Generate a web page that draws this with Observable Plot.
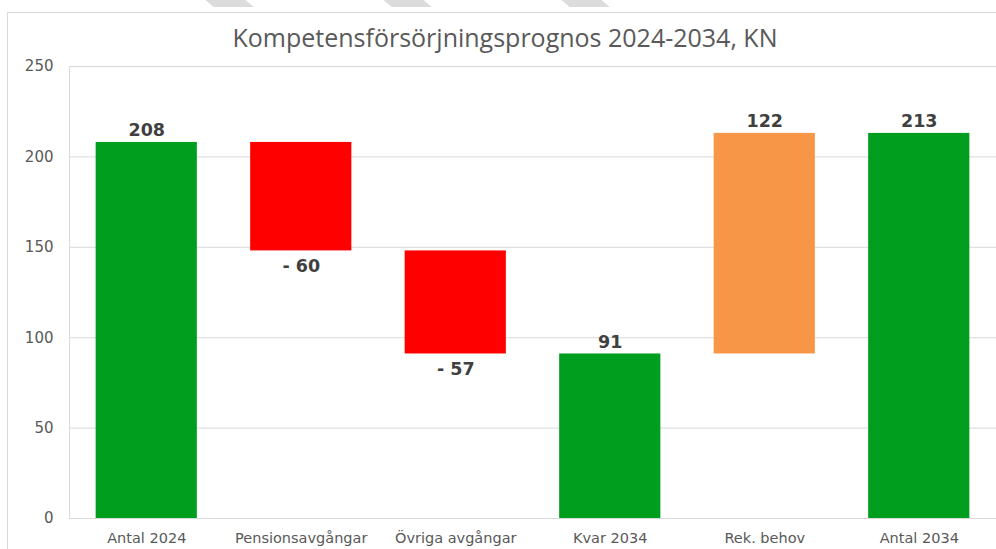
<!DOCTYPE html>
<html><head><meta charset="utf-8">
<script src="https://cdn.jsdelivr.net/npm/d3@7"></script>
<script src="https://cdn.jsdelivr.net/npm/@observablehq/plot@0.6"></script>
<style>
body{margin:0;background:#fff;}
#wrap{position:relative;width:996px;height:549px;overflow:hidden;background:#fff;}
#frame{position:absolute;left:7px;top:12px;width:1100px;height:600px;border:1px solid #d9d9d9;}
#title{position:absolute;top:20px;left:0;width:1010px;text-align:center;font-family:"Open Sans",sans-serif;font-size:25px;color:#595959;white-space:nowrap;}
#chart{position:absolute;left:0;top:50px;}
.wm{position:absolute;top:-1px;width:40px;height:8px;background:#dcdcdc;transform:skewX(50deg);}
</style></head>
<body>
<div id="wrap">
  <div class="wm" style="left:209px"></div>
  <div class="wm" style="left:387px"></div>
  <div class="wm" style="left:565px"></div>
  <div id="frame"></div>
  <div id="title">Kompetensförsörjningsprognos 2024-2034, KN</div>
  <div id="chart"></div>
</div>
<script>
const categories = ["Antal 2024", "Pensionsavgångar", "Övriga avgångar", "Kvar 2034", "Rek. behov", "Antal 2034"];
const changes = [208, -60, -57, 91, 122, 213];
const kinds = ["total", "decrease", "decrease", "total", "increase", "total"];
const labels = ["208", "- 60", "- 57", "91", "122", "213"];
const yTicks = [0, 50, 100, 150, 200, 250];
const kindColors = {total: "#009E1F", decrease: "#FF0000", increase: "#F79646"};

let running = 0;
const data = categories.map((cat, i) => {
  const v = changes[i], k = kinds[i];
  let y1, y2;
  if (k === "total") { y1 = 0; y2 = v; running = v; }
  else if (k === "decrease") { y2 = running; y1 = running + v; running = y1; }
  else { y1 = running; y2 = running + v; running = y2; }
  return {cat, y1, y2, kind: k, label: labels[i]};
});

const chart = Plot.plot({
  width: 996,
  height: 499,
  marginTop: 16,
  marginBottom: 31,
  marginLeft: 69,
  marginRight: 0,
  style: {background: "transparent", overflow: "visible"},
  x: {domain: categories, paddingInner: 0.345, paddingOuter: 0.1725, round: false, label: null},
  y: {domain: [0, 250], label: null},
  color: {domain: Object.keys(kindColors), range: Object.values(kindColors)},
  marks: [
    Plot.gridY(yTicks, {stroke: "#d9d9d9", strokeOpacity: 1}),
    Plot.frame({anchor: "left", stroke: "#d9d9d9"}),
    Plot.ruleY([0], {stroke: "#d9d9d9"}),
    Plot.axisY(yTicks, {tickSize: 0, tickPadding: 16, fontSize: 15, fill: "#595959", fontFamily: "DejaVu Sans", label: null}),
    Plot.axisX({tickSize: 0, tickPadding: 14, fontSize: 14.5, fill: "#595959", fontFamily: "DejaVu Sans", label: null}),
    Plot.barY(data, {x: "cat", y1: "y1", y2: "y2", fill: "kind"}),
    Plot.text(data.filter(d => d.kind !== "decrease"), {x: "cat", y: "y2", text: "label", dy: -12, fontSize: 17.5, fontWeight: "bold", fill: "#404040", fontFamily: "DejaVu Sans"}),
    Plot.text(data.filter(d => d.kind === "decrease"), {x: "cat", y: "y1", text: "label", dy: 15, fontSize: 17.5, fontWeight: "bold", fill: "#404040", fontFamily: "DejaVu Sans"})
  ]
});
document.getElementById("chart").appendChild(chart);
</script>
</body></html>
